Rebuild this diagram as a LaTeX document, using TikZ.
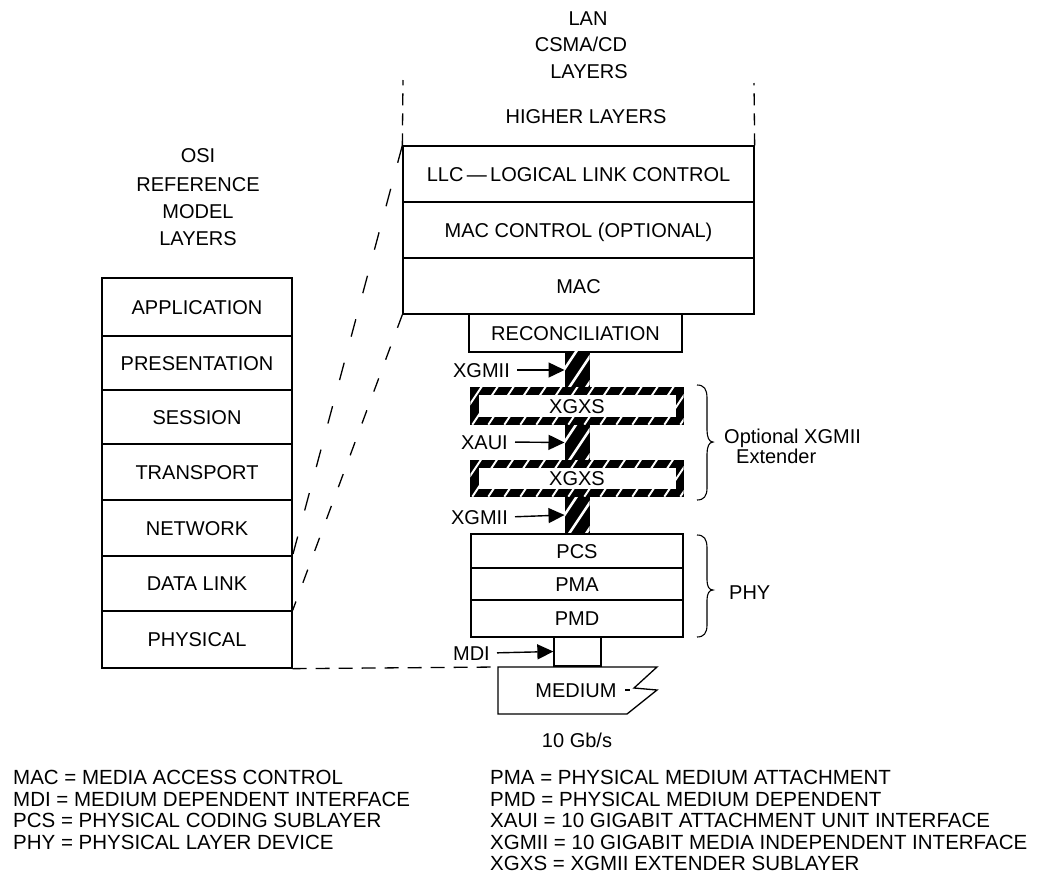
\documentclass[tikz,border=0pt]{standalone}
\usepackage{fontspec}
\setmainfont{Liberation Sans}
\usetikzlibrary{arrows.meta}
\tikzset{
  txt/.style={inner sep=0pt, text height=14.3pt, text depth=0pt, font=\fontsize{20}{24}\selectfont},
  box/.style={txt, draw, line width=1.3pt},
  leg/.style={inner sep=0pt, anchor=base west, font=\fontsize{20.5}{24}\selectfont},
  hbar/.style={fill=black, draw=black, line width=1pt, minimum width=24pt, inner sep=0pt},
  stripe/.style={white, line width=2.6pt},
  bandstripe/.style={white, line width=2pt},
  arr/.style={line width=1.4pt, -{Triangle[length=16pt,width=15pt]}, shorten <=7pt},
  dlineA/.style={line width=1.3pt, dash pattern=on 18pt off 27pt},
  dlineB/.style={line width=1.3pt, dash pattern=on 14pt off 20pt},
  dlineC/.style={line width=1.3pt, dash pattern=on 14pt off 9pt},
  vdash/.style={line width=1.3pt, dash pattern=on 12pt off 8pt},
  bracepath/.style={line width=1.1pt},
}
\begin{document}
\begin{tikzpicture}[x=1pt,y=-1pt]
\fill[white] (0,0) rectangle (1044,884);
\useasboundingbox (0,0) rectangle (1044,884);

% OSI titles
\node[txt] (osi1) at (198,155) {OSI};
\node[txt] (osi2) at (198,184) {REFERENCE};
\node[txt] (osi3) at (198,211) {MODEL};
\node[txt] (osi4) at (198,238) {LAYERS};

% OSI stack
\node[box, minimum width=190pt, minimum height=58pt] (app)  at (197,307) {APPLICATION};
\node[box, minimum width=190pt, minimum height=54pt] (pres) at (197,363) {PRESENTATION};
\node[box, minimum width=190pt, minimum height=54pt] (sess) at (197,417) {SESSION};
\node[box, minimum width=190pt, minimum height=56pt] (trans) at (197,472) {TRANSPORT};
\node[box, minimum width=190pt, minimum height=56pt] (net)  at (197,528) {NETWORK};
\node[box, minimum width=190pt, minimum height=55pt] (dlink) at (197,583.5) {DATA LINK};
\node[box, minimum width=190pt, minimum height=57pt] (phys) at (197,639.5) {PHYSICAL};

% LAN titles
\node[txt] (lan1) at (588,18) {LAN};
\node[txt] (lan2) at (581,44) {CSMA/CD};
\node[txt] (lan3) at (589,71) {LAYERS};
\node[txt] (higher) at (586,116) {HIGHER LAYERS};

% LAN stack
\node[box, minimum width=351pt, minimum height=56pt] (llc) at (578.5,174) {LLC\,\textemdash\,LOGICAL LINK CONTROL};
\node[box, minimum width=351pt, minimum height=56pt] (macc) at (578.5,230) {MAC CONTROL (OPTIONAL)};
\node[box, minimum width=351pt, minimum height=56pt] (mac) at (578.5,286) {MAC};
\node[box, minimum width=213pt, minimum height=38pt] (recon) at (575.5,333) {RECONCILIATION};

% dashed connectors
\coordinate (topL) at (403,80);
\coordinate (topR) at (754,83);
\draw[vdash] (llc.north west) -- (topL);
\draw[vdash] (llc.north east) -- (topR);
\draw[dlineA] (llc.north west) -- (dlink.north east);
\draw[dlineB] (mac.south west) -- (phys.north east);
\coordinate (medTL) at (498,667);
\draw[dlineC] (phys.south east) -- (medTL);

% hatched bars
\node[hbar, minimum height=36pt] (bar1) at (577,370) {};
\node[hbar, minimum height=37pt] (bar2) at (577,442.5) {};
\node[hbar, minimum height=38pt] (bar3) at (577,515) {};
\foreach \b in {bar1,bar2,bar3}{
  \begin{scope}
    \clip (\b.south west) rectangle (\b.north east);
    \foreach \k in {-2,...,2}
      \draw[stripe] ([xshift={\k*17pt+4pt}]\b.south west) -- ++(40,-60);
  \end{scope}
}

% XGXS boxes
\node[box, fill=black, minimum width=212pt, minimum height=36pt] (xgxs1) at (577,406) {};
\node[box, fill=black, minimum width=212pt, minimum height=35pt] (xgxs2) at (577,478.5) {};
\foreach \b in {xgxs1,xgxs2}{
  \begin{scope}
    \clip (\b.south west) rectangle (\b.north east);
    \foreach \k in {-3,...,14}
      \draw[bandstripe] ([xshift={\k*16pt+2pt}]\b.south west) -- ++(40,-60);
  \end{scope}
  \fill[white] ([xshift=9pt,yshift=8pt]\b.south west) rectangle ([xshift=-8pt,yshift=-8pt]\b.north east);
}
\node[txt] (xgxsA) at (xgxs1) {XGXS};
\node[txt] (xgxsB) at (xgxs2) {XGXS};

% PHY stack
\node[box, minimum width=212pt, minimum height=34pt] (pcs) at (577,551) {PCS};
\node[box, minimum width=212pt, minimum height=32pt] (pma) at (577,584) {PMA};
\node[box, minimum width=212pt, minimum height=37pt] (pmd) at (577,618.5) {PMD};
\node[box, minimum width=47pt, minimum height=29pt] (mdi) at (577.5,651.5) {};

% medium
\draw[line width=1.3pt] (medTL) -- (657,667) -- (634,688) -- (657,690) -- (627,714) -- (498,714) -- cycle;
\draw[line width=1.3pt] (625,690) -- (630,690);
\node[txt] (medium) at (576,690) {MEDIUM};
\node[txt] (rate) at (577,740) {10 Gb/s};

% interface labels and arrows
\node[txt, anchor=east] (lxgmiiA) at (510,370) {XGMII};
\node[txt, anchor=east] (lxaui) at (508,442) {XAUI};
\node[txt, anchor=east] (lxgmiiB) at (508,517) {XGMII};
\node[txt, anchor=east] (lmdi) at (490,653) {MDI};
\draw[arr] (lxgmiiA.east) -- (bar1.west);
\draw[arr] (lxaui.east) -- (bar2.west);
\draw[arr] (lxgmiiB.east) -- (bar3.west);
\draw[arr] (lmdi.east) -- (mdi.west);

% braces
\draw[bracepath] (697,385) .. controls (704,385) and (707,389) .. (707,398) -- (707,430)
  .. controls (707,437) and (709,442) .. (713,442) .. controls (709,442) and (707,447) .. (707,454)
  -- (707,488) .. controls (707,496) and (704,500) .. (697,500);
\draw[bracepath] (697,535) .. controls (704,535) and (707,539) .. (707,548) -- (707,580)
  .. controls (707,586) and (709,590) .. (713,590) .. controls (709,590) and (707,594) .. (707,600)
  -- (707,625) .. controls (707,633) and (704,637) .. (697,637);
\node[txt, anchor=west] (opt1) at (724,436) {Optional XGMII};
\node[txt, anchor=west] (opt2) at (736,456) {Extender};
\node[txt, anchor=west] (phy) at (729,592) {PHY};

% legend
\node[leg] (g1) at (13,784.5) {MAC = MEDIA ACCESS CONTROL};
\node[leg] (g2) at (13,806) {MDI = MEDIUM DEPENDENT INTERFACE};
\node[leg] (g3) at (13,827.5) {PCS = PHYSICAL CODING SUBLAYER};
\node[leg] (g4) at (13,849) {PHY = PHYSICAL LAYER DEVICE};
\node[leg] (g5) at (490,784.5) {PMA = PHYSICAL MEDIUM ATTACHMENT};
\node[leg] (g6) at (490,806) {PMD = PHYSICAL MEDIUM DEPENDENT};
\node[leg] (g7) at (490,827.5) {XAUI = 10 GIGABIT ATTACHMENT UNIT INTERFACE};
\node[leg] (g8) at (490,849) {XGMII = 10 GIGABIT MEDIA INDEPENDENT INTERFACE};
\node[leg] (g9) at (490,870.5) {XGXS = XGMII EXTENDER SUBLAYER};
\end{tikzpicture}
\end{document}
